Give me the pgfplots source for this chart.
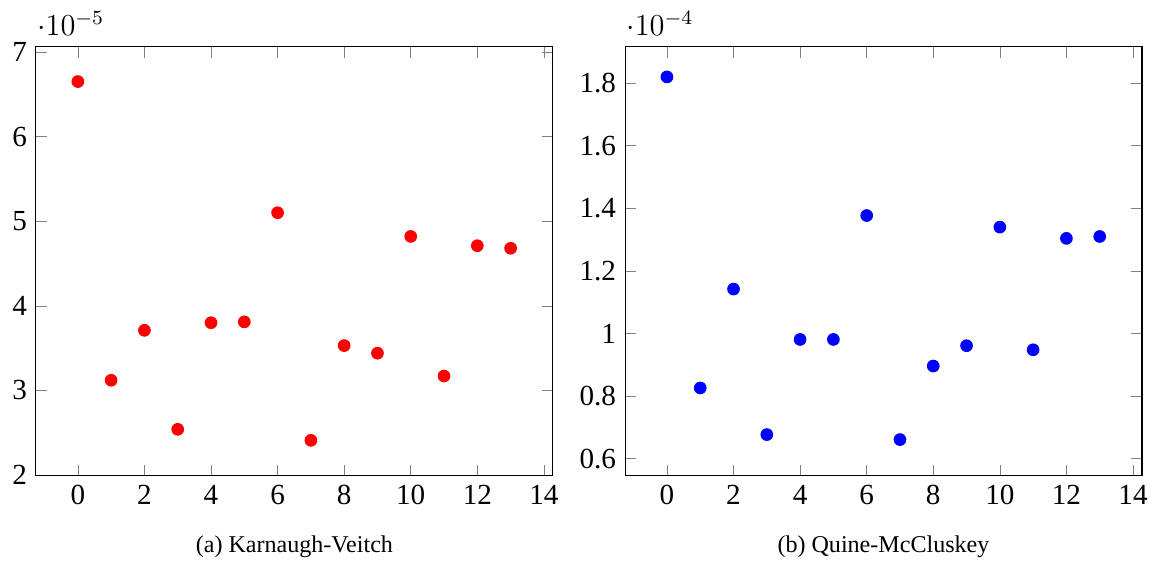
\documentclass[border=0pt]{standalone}
\usepackage{fontspec}
\setmainfont{Liberation Serif}
\usepackage{pgfplots}
\pgfplotsset{compat=1.18}

\pgfplotsset{
  kvstyle/.style={
    scale only axis,
    width=7.17cm, height=5.95cm,
    xmin=-1.26, xmax=14.27,
    xtick={0,2,...,14},
    tick label style={font=\fontsize{11.5}{13}\selectfont},
    /pgf/number format/assume math mode=true,
    every y tick scale label/.style={at={(rel axis cs:0,1)}, anchor=south west,
      xshift=-3pt, yshift=1pt, font=\fontsize{11.5}{13}\selectfont},
  }
}

\begin{document}
\begin{tikzpicture}
  \begin{axis}[kvstyle, name=kv, ymin=1.99e-5, ymax=7.06e-5,
      ytick={2e-5,3e-5,4e-5,5e-5,6e-5,7e-5}]
    \addplot[only marks, mark=*, mark size=2.3pt, color=red] coordinates {
      (0,6.65e-5) (1,3.12e-5) (2,3.71e-5) (3,2.54e-5) (4,3.80e-5)
      (5,3.81e-5) (6,5.10e-5) (7,2.41e-5) (8,3.53e-5) (9,3.44e-5)
      (10,4.82e-5) (11,3.17e-5) (12,4.71e-5) (13,4.68e-5)};
  \end{axis}
  \node[font=\fontsize{9.5}{11}\selectfont] at ([yshift=-0.98cm]kv.south) {(a) Karnaugh-Veitch};

  \begin{axis}[kvstyle, name=qm, at={(8.17cm,0)}, ymin=0.545e-4, ymax=1.916e-4,
      ytick={0.6e-4,0.8e-4,1e-4,1.2e-4,1.4e-4,1.6e-4,1.8e-4}]
    \addplot[only marks, mark=*, mark size=2.3pt, color=blue] coordinates {
      (0,1.82e-4) (1,0.826e-4) (2,1.142e-4) (3,0.677e-4) (4,0.981e-4)
      (5,0.981e-4) (6,1.377e-4) (7,0.661e-4) (8,0.896e-4) (9,0.961e-4)
      (10,1.340e-4) (11,0.948e-4) (12,1.304e-4) (13,1.310e-4)};
  \end{axis}
  \node[font=\fontsize{9.5}{11}\selectfont] at ([yshift=-0.98cm]qm.south) {(b) Quine-McCluskey};

  % page extent as in the reference
  \useasboundingbox (-0.498cm,-1.246cm) rectangle (15.50cm,6.60cm);
\end{tikzpicture}
\end{document}
